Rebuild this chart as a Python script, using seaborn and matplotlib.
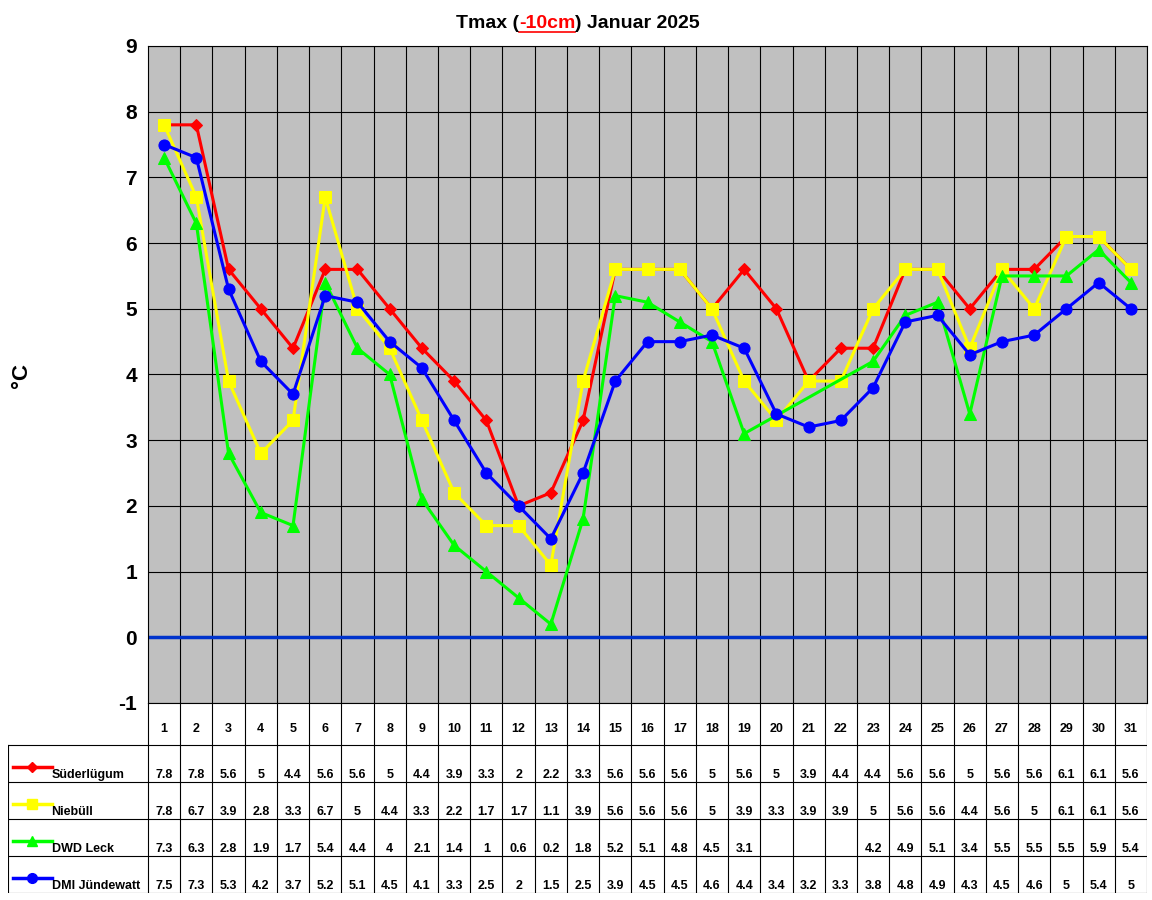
import numpy as np
import pandas as pd
import seaborn as sns
import matplotlib.pyplot as plt

plt.rcParams['font.family'] = ['Liberation Sans', 'DejaVu Sans']

days = list(range(1, 32))
suederluegum = [7.8, 7.8, 5.6, 5, 4.4, 5.6, 5.6, 5, 4.4, 3.9, 3.3, 2, 2.2, 3.3, 5.6, 5.6, 5.6, 5, 5.6, 5, 3.9, 4.4, 4.4, 5.6, 5.6, 5, 5.6, 5.6, 6.1, 6.1, 5.6]
niebuell = [7.8, 6.7, 3.9, 2.8, 3.3, 6.7, 5, 4.4, 3.3, 2.2, 1.7, 1.7, 1.1, 3.9, 5.6, 5.6, 5.6, 5, 3.9, 3.3, 3.9, 3.9, 5, 5.6, 5.6, 4.4, 5.6, 5, 6.1, 6.1, 5.6]
dwd_leck = [7.3, 6.3, 2.8, 1.9, 1.7, 5.4, 4.4, 4, 2.1, 1.4, 1, 0.6, 0.2, 1.8, 5.2, 5.1, 4.8, 4.5, 3.1, np.nan, np.nan, np.nan, 4.2, 4.9, 5.1, 3.4, 5.5, 5.5, 5.5, 5.9, 5.4]
dmi_juendewatt = [7.5, 7.3, 5.3, 4.2, 3.7, 5.2, 5.1, 4.5, 4.1, 3.3, 2.5, 2, 1.5, 2.5, 3.9, 4.5, 4.5, 4.6, 4.4, 3.4, 3.2, 3.3, 3.8, 4.8, 4.9, 4.3, 4.5, 4.6, 5, 5.4, 5]

series = [("Süderlügum", suederluegum, "#FF0000", "D", 6),
          ("Niebüll", niebuell, "#FFFF00", "s", 8),
          ("DWD Leck", dwd_leck, "#00FF00", "^", 8),
          ("DMI Jündewatt", dmi_juendewatt, "#0000FF", "o", 8)]

W, H = 1152, 900
fig = plt.figure(figsize=(11.52, 9), dpi=100)
ax = fig.add_axes([148 / W, 1 - 703 / H, 999 / W, 657 / H])
ax.set_facecolor("#C0C0C0")

for name, vals, col, mk, ms in series:
    df = pd.DataFrame({"day": days, "v": vals}).dropna()
    sns.lineplot(data=df, x="day", y="v", ax=ax, color=col, marker=mk,
                 markersize=ms, markeredgecolor=col, linewidth=2.2, zorder=3)

ax.set_xlim(0.5, 31.5)
ax.set_ylim(-1, 9)
ax.set_yticks(range(-1, 10))
ax.set_yticklabels([str(i) for i in range(-1, 10)], fontsize=15, fontweight="bold")
ax.tick_params(axis="y", length=0, pad=8)
ax.set_xticks([])
for d in range(1, 32):
    ax.axvline(d + 0.5, color="black", lw=0.8, zorder=1)
for yv in range(-1, 10):
    ax.axhline(yv, color="black", lw=0.8, zorder=1)
ax.axhline(0, color="#0033CC", lw=2.5, zorder=2)
ax.set_xlabel("")
ax.set_ylabel("")
fig.text(22 / W, 1 - 375 / H, "°C", fontsize=16, fontweight="bold", rotation=90, ha="center", va="center")
for s in ax.spines.values():
    s.set_color("black")

# title
tx = 456 / W
ty = 1 - 23 / H
t1 = fig.text(tx, ty, "Tmax (", fontsize=14, fontweight="bold", va="center")
fig.canvas.draw()
r = fig.canvas.get_renderer()
bb = t1.get_window_extent(r)
t2 = fig.text(bb.x1 / W, ty, "-10cm", fontsize=14, fontweight="bold", va="center", color="red")
bb2 = t2.get_window_extent(r)
fig.text(bb2.x1 / W, ty, ") Januar 2025", fontsize=14, fontweight="bold", va="center")
fig.add_artist(plt.Line2D([bb2.x0 / W, bb2.x1 / W], [ty - 9 / H] * 2, color="red", lw=1.2))

# data table
tab = fig.add_axes([8 / W, 1 - 893 / H, 1139 / W, 190 / H])
left = 0.5 - 140 / (999 / 31)
tab.set_xlim(left, 31.5)
tab.set_ylim(190, 0)
tab.axis("off")
rows = [0, 42, 79, 116, 153, 190]
for yv in rows[1:]:
    tab.plot([left, 31.5], [yv, yv], color="black", lw=0.8)
tab.plot([left, left], [42, 190], color="black", lw=0.8)
for d in range(0, 32):
    tab.plot([d + 0.5, d + 0.5], [0, 190], color="black", lw=0.8)
for d in days:
    tab.text(d, 26, str(d), ha="center", va="center", fontsize=9, fontweight="bold")
for i, (name, vals, col, mk, ms) in enumerate(series):
    y0 = rows[i + 1]
    tab.plot([left + 0.15, left + 1.35], [y0 + 22, y0 + 22], color=col, lw=2.5)
    tab.plot([left + 0.75], [y0 + 22], marker=mk, color=col, markersize=ms - 1)
    tab.text(left + 1.35, y0 + 30, name, ha="left", va="center", fontsize=9, fontweight="bold")
    for d, v in zip(days, vals):
        if not np.isnan(v):
            tab.text(d, y0 + 30, f"{v:g}", ha="center", va="center", fontsize=9, fontweight="bold")

fig.savefig("out.png", dpi=100, facecolor="white")
